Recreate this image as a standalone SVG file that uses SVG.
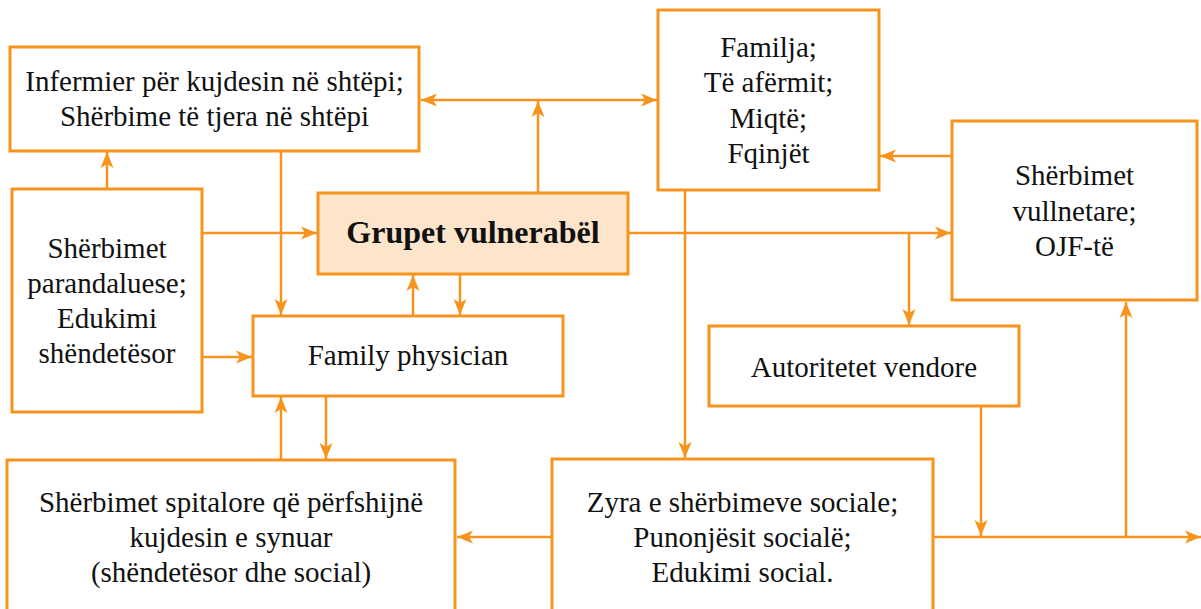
<svg xmlns="http://www.w3.org/2000/svg" width="1201" height="609" viewBox="0 0 1201 609" font-family="Liberation Serif, Times New Roman, serif">
<defs>
<marker id="ah" markerUnits="userSpaceOnUse" markerWidth="16" markerHeight="14" refX="16" refY="6.5" orient="auto-start-reverse" viewBox="0 0 16 13">
<path d="M0,0 L16,6.5 L0,13 L4,6.5 Z" fill="#F7941D"/>
</marker>
</defs>
<style>
.box{fill:#FFFFFF;stroke:#F7941D;stroke-width:3}
.main{fill:#FDE5CB;stroke:#F7941D;stroke-width:3}
.t{font-size:29px;fill:#111111;text-anchor:middle}
.b{font-size:32px;font-weight:bold;fill:#111111;text-anchor:middle}
.c{fill:none;stroke:#F7941D;stroke-width:2.5}
.a{marker-end:url(#ah)}
</style>
<rect width="1201" height="609" fill="#FFFFFF"/>
<g id="connectors">
<path class="c a" style="marker-start:url(#ah)" d="M421,100 L657,100"/>
<path class="c a" d="M538,193 L538,101"/>
<path class="c a" d="M107,189 L107,152"/>
<path class="c a" d="M281,151 L281,315"/>
<path class="c a" d="M202,233 L317,233"/>
<path class="c a" d="M202,357 L252,357"/>
<path class="c a" d="M413,316 L413,275"/>
<path class="c a" d="M460,274 L460,315"/>
<path class="c a" d="M281,460 L281,397"/>
<path class="c a" d="M326,396 L326,459"/>
<path class="c a" d="M628,233 L951,233"/>
<path class="c a" d="M909,233 L909,325"/>
<path class="c a" d="M952,156 L880,156"/>
<path class="c a" d="M685,190 L685,458"/>
<path class="c a" d="M552,537 L457,537"/>
<path class="c a" d="M933,537 L1201,537"/>
<path class="c a" d="M981,407 L981,536"/>
<path class="c a" d="M1126,537 L1126,302"/>
</g>
<g id="infermier">
<rect class="box" x="10" y="47" width="409" height="104"/>
<text class="t" x="214.5" y="91">Infermier për kujdesin në shtëpi;</text>
<text class="t" x="214.5" y="126">Shërbime të tjera në shtëpi</text>
</g>
<g id="familja">
<rect class="box" x="658" y="10" width="221" height="180"/>
<text class="t" x="768.5" y="57">Familja;</text>
<text class="t" x="768.5" y="92">Të afërmit;</text>
<text class="t" x="768.5" y="128">Miqtë;</text>
<text class="t" x="768.5" y="163">Fqinjët</text>
</g>
<g id="grupet">
<rect class="main" x="318" y="193" width="310" height="81"/>
<text class="b" x="473" y="243">Grupet vulnerabël</text>
</g>
<g id="vullnetare">
<rect class="box" x="952" y="121" width="245" height="179"/>
<text class="t" x="1074.5" y="185">Shërbimet</text>
<text class="t" x="1074.5" y="221">vullnetare;</text>
<text class="t" x="1074.5" y="256">OJF-të</text>
</g>
<g id="parandaluese">
<rect class="box" x="12" y="189" width="190" height="223"/>
<text class="t" x="107" y="258">Shërbimet</text>
<text class="t" x="107" y="293">parandaluese;</text>
<text class="t" x="107" y="328">Edukimi</text>
<text class="t" x="107" y="363">shëndetësor</text>
</g>
<g id="family-physician">
<rect class="box" x="253" y="316" width="310" height="80"/>
<text class="t" x="408" y="365">Family physician</text>
</g>
<g id="autoritetet">
<rect class="box" x="709" y="326" width="310" height="80"/>
<text class="t" x="864" y="377">Autoritetet vendore</text>
</g>
<g id="spitalore">
<rect class="box" x="7" y="460" width="448" height="160"/>
<text class="t" x="231" y="512">Shërbimet spitalore që përfshijnë</text>
<text class="t" x="231" y="547">kujdesin e synuar</text>
<text class="t" x="231" y="582">(shëndetësor dhe social)</text>
</g>
<g id="zyra">
<rect class="box" x="552" y="459" width="381" height="160"/>
<text class="t" x="742.5" y="512">Zyra e shërbimeve sociale;</text>
<text class="t" x="742.5" y="547">Punonjësit socialë;</text>
<text class="t" x="742.5" y="582">Edukimi social.</text>
</g>
</svg>
